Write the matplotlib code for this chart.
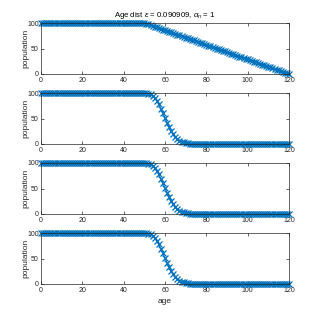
import matplotlib
matplotlib.use("Agg")
import matplotlib.pyplot as plt
from matplotlib import font_manager

ages = list(range(0, 121))

# panel 1: flat then linear decline
pop_linear = [100.0] * 51 + [
    98.6, 97.1, 95.7, 94.3, 92.9, 91.4, 90.0, 88.6, 87.1, 85.7,
    84.3, 82.9, 81.4, 80.0, 78.6, 77.1, 75.7, 74.3, 72.9, 71.4,
    70.0, 68.6, 67.1, 65.7, 64.3, 62.9, 61.4, 60.0, 58.6, 57.1,
    55.7, 54.3, 52.9, 51.4, 50.0, 48.6, 47.1, 45.7, 44.3, 42.9,
    41.4, 40.0, 38.6, 37.1, 35.7, 34.3, 32.9, 31.4, 30.0, 28.6,
    27.1, 25.7, 24.3, 22.9, 21.4, 20.0, 18.6, 17.1, 15.7, 14.3,
    12.9, 11.4, 10.0, 8.6, 7.1, 5.7, 4.3, 2.9, 1.4, 0.0]

# panels 2-4: flat then smooth decline
pop_smooth = [100.0] * 51 + [
    99.8, 99.0, 97.3, 94.5, 90.3, 84.6, 77.5, 69.3, 60.2, 50.8,
    41.6, 33.0, 25.4, 19.0, 13.8, 9.8, 6.8, 4.6, 3.0, 2.0,
    1.3, 0.8, 0.5, 0.3, 0.2] + [0.0] * 45

series = [pop_linear, pop_smooth, pop_smooth, pop_smooth]

xticks = [0, 20, 40, 60, 80, 100, 120]
yticks = [0, 50, 100]
title = r'Age dist $\epsilon$ = 0.090909, $\alpha_n$ = 1'

names = {f.name for f in font_manager.fontManager.ttflist}
fam = ['Liberation Sans Narrow'] if 'Liberation Sans Narrow' in names else ['Liberation Sans']
plt.rcParams['font.family'] = fam + ['DejaVu Sans']
plt.rcParams['mathtext.fontset'] = 'custom'
plt.rcParams['mathtext.rm'] = fam[0]
plt.rcParams['mathtext.it'] = fam[0] + ':italic'
plt.rcParams['mathtext.bf'] = fam[0] + ':bold'

W, H = 319, 319
fig = plt.figure(figsize=(W / 100, H / 100), dpi=100)
left, right = 41, 289
tops = [23, 93, 163, 233]
ph = 51
gray = '#262626'
blue = '#0072BD'
for i, (top, vals) in enumerate(zip(tops, series)):
    ax = fig.add_axes([left / W, 1 - (top + ph) / H, (right - left) / W, ph / H])
    ax.plot(ages, vals, color=blue, marker='x', markersize=4.2, linewidth=0.8,
            markeredgewidth=0.9, clip_on=False)
    ax.set_xlim(0, 120)
    ax.set_ylim(0, 100)
    ax.set_xticks(xticks)
    ax.set_yticks(yticks)
    ax.tick_params(direction='in', top=True, right=True, length=2.5, width=0.5,
                   labelsize=5, colors=gray)
    ax.tick_params(axis='x', pad=2.5)
    ax.tick_params(axis='y', pad=1.5)
    for s in ax.spines.values():
        s.set_linewidth(0.5)
        s.set_color(gray)
    ax.set_ylabel('population', fontsize=6, color=gray)
    ax.yaxis.set_label_coords(-0.046, 0.5)
    if i == 0:
        ax.set_title(title, fontsize=5.6, color='black', pad=4)
    if i == 3:
        ax.set_xlabel('age', fontsize=6, color=gray, labelpad=2.5)

fig.savefig('out.png', dpi=100)
